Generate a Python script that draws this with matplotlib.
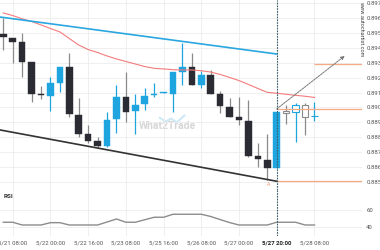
import numpy as np
import matplotlib
matplotlib.use('Agg')
import matplotlib.pyplot as plt

plt.rcParams['font.family'] = ['Roboto', 'DejaVu Sans']

# candle data (4h bars)
opens  = [0.89492, 0.89465, 0.89439, 0.89304, 0.89087, 0.89077, 0.89164, 0.89271, 0.88950, 0.88822,
          0.88775, 0.88742, 0.88923, 0.89070, 0.88976, 0.89023, 0.89080, 0.89100, 0.89090, 0.89237,
          0.89271, 0.89150, 0.89217, 0.89090, 0.89003, 0.88936, 0.88909, 0.88675, 0.88648, 0.88594,
          0.88976, 0.88970, 0.89017, 0.88940]
highs  = [0.89600, 0.89465, 0.89499, 0.89304, 0.89144, 0.89204, 0.89271, 0.89365, 0.89063, 0.88882,
          0.88802, 0.88970, 0.89150, 0.89237, 0.89090, 0.89130, 0.89164, 0.89104, 0.89237, 0.89432,
          0.89365, 0.89244, 0.89251, 0.89110, 0.89063, 0.89070, 0.89050, 0.88762, 0.88822, 0.88970,
          0.89017, 0.89030, 0.89030, 0.89037]
lows   = [0.89385, 0.89298, 0.89204, 0.89037, 0.89057, 0.88976, 0.89104, 0.88936, 0.88802, 0.88762,
          0.88728, 0.88735, 0.88829, 0.88903, 0.88822, 0.88983, 0.89070, 0.89100, 0.88970, 0.89150,
          0.89150, 0.89130, 0.89090, 0.88963, 0.88936, 0.88882, 0.88668, 0.88601, 0.88514, 0.88594,
          0.88889, 0.88768, 0.88815, 0.88909]
closes = [0.89472, 0.89439, 0.89304, 0.89090, 0.89080, 0.89164, 0.89271, 0.88956, 0.88822, 0.88775,
          0.88742, 0.88916, 0.89070, 0.88970, 0.89017, 0.89077, 0.89087, 0.89104, 0.89237, 0.89271,
          0.89150, 0.89217, 0.89090, 0.89010, 0.88936, 0.88916, 0.88675, 0.88655, 0.88594, 0.88970,
          0.88963, 0.89017, 0.88936, 0.88940]
n_real = 30  # bars after this one are the projected (hollow) ones

ma = [0.89633, 0.89616, 0.89594, 0.89576, 0.89553, 0.89529, 0.89506, 0.89462, 0.89418, 0.89388,
      0.89368, 0.89345, 0.89325, 0.89308, 0.89291, 0.89274, 0.89262, 0.89258, 0.89253, 0.89251,
      0.89251, 0.89246, 0.89237, 0.89221, 0.89201, 0.89180, 0.89154, 0.89127, 0.89101, 0.89095,
      0.89088, 0.89081, 0.89075, 0.89067]

rsi = [45.3, 45.3, 42.0, 42.0, 42.0, 44.8, 44.8, 42.0, 42.0, 42.0,
       42.0, 45.6, 49.2, 45.3, 45.3, 48.3, 51.3, 51.3, 54.9, 54.9,
       54.9, 54.9, 52.2, 48.5, 44.9, 42.0, 42.0, 42.0, 42.0, 45.3,
       45.3, 45.3, 42.0, 42.0]

# pattern lines
resist_x = [-0.35, 29]
resist_y = [0.89606, 0.89358]
support_x = [-0.35, 29]
support_y = [0.88849, 0.88505]

event_idx = 29
level_entry = 0.88990
level_low = 0.88509
level_target = 0.89291
arrow_end = (36.2, 0.89345)

price_ticks = [0.885, 0.886, 0.887, 0.888, 0.889, 0.890, 0.891, 0.892, 0.893, 0.894, 0.895, 0.896, 0.897]
time_pos = [1, 5, 9, 13, 17, 21, 25, 29, 33]
time_labels = ['5/21 08:00', '5/22 00:00', '5/22 16:00', '5/23 08:00', '5/25 16:00',
               '5/26 08:00', '5/27 00:00', '5/27 20:00', '5/28 08:00']

BLUE = '#1ea5e0'
DARK = '#2b2b33'
GRID = '#ededed'
TXT = '#555555'

fig = plt.figure(figsize=(3.8, 2.5), dpi=100)
ax = fig.add_axes([0, 0.24, 362 / 380, 0.76])
ax2 = fig.add_axes([0, 0.056, 362 / 380, 0.184])

xlim = (-0.35, 38.04)
for a in (ax, ax2):
    a.set_xlim(*xlim)
    for s in a.spines.values():
        s.set_visible(False)
    a.set_xticks(time_pos)
    a.grid(True, color=GRID, linewidth=0.6)
    a.set_axisbelow(True)
    a.tick_params(length=0, labelsize=4.3, colors=TXT, pad=3)
    a.yaxis.tick_right()

ax.set_ylim(0.884464, 0.897201)
ax.set_yticks(price_ticks)
ax.set_yticklabels([f'{p:.3f}' for p in price_ticks])
ax.set_xticklabels([])

# watermark
ax.text(17.4, 0.88876, 'What2Trade', fontsize=7.5, fontweight='bold', color='#d6d6d6',
        ha='center', va='center', zorder=0)
ax.plot([16.6, 17.2, 17.8, 18.4, 19.2], [0.88930, 0.88905, 0.88925, 0.88900, 0.88945],
        color='#cfe8f5', lw=1.5, zorder=0)

# candles
w = 0.7
for i in range(len(opens)):
    o, h, l, c = opens[i], highs[i], lows[i], closes[i]
    up = c >= o
    col = BLUE if up else DARK
    wick_col = BLUE if up else '#8a8a8a'
    body_h = max(abs(c - o), 0.000025)
    if i < n_real:
        ax.vlines(i, l, h, color=wick_col, lw=0.9, zorder=2)
        ax.bar(i, body_h, bottom=min(o, c), width=w, color=col, edgecolor=col, lw=0.3, zorder=3)
    else:
        ec = BLUE if up else '#8a8a8a'
        ax.vlines(i, l, h, color=ec, lw=0.9, zorder=2)
        ax.bar(i, body_h, bottom=min(o, c), width=w, color='white', edgecolor=ec, lw=0.8, zorder=3)

ax.plot(range(len(ma)), ma, color='#f47c7c', lw=0.8, zorder=4)
ax.plot(resist_x, resist_y, color='#2aa6e0', lw=1.2, zorder=4)
ax.plot(support_x, support_y, color='#333333', lw=1.2, zorder=4)

ax.hlines(level_entry, event_idx, xlim[1], color='#f6a985', lw=0.9, zorder=4)
ax.hlines(level_low, event_idx, xlim[1], color='#f6a985', lw=0.9, zorder=4)
ax.hlines(level_target, 33, xlim[1], color='#f6a985', lw=0.9, zorder=4)
ax.annotate('', xy=arrow_end, xytext=(event_idx, level_entry),
            arrowprops=dict(arrowstyle='-|>', color='#777777', lw=0.7, ls=(0, (2, 1)),
                            mutation_scale=5, shrinkA=0, shrinkB=0), zorder=5)
ax.text(28.15, 0.88480, 'A', fontsize=4, color='#f6a985', ha='center', va='center')

for a in (ax, ax2):
    a.axvline(event_idx, color='#3f5d68', lw=0.8, ls=(0, (1.5, 1)), zorder=6)

# RSI panel
ax2.set_ylim(28.8, 84)
ax2.set_yticks([40, 60])
ax2.set_xticklabels(time_labels)
ax2.plot(range(len(rsi)), rsi, color='#8c8c8c', lw=1.0)
ax2.text(0, 76, 'RSI', fontsize=4.5, fontweight='bold', color='#333333', ha='left', va='center')
for lbl in ax2.get_xticklabels():
    if lbl.get_text() == '5/27 20:00':
        lbl.set_color('#222222')
        lbl.set_fontweight('bold')

fig.text(361 / 380, 1 - 2 / 250, 'www.autochartist.com', rotation=270, fontsize=4,
         color='#444444', ha='center', va='top')

fig.savefig('out.png', dpi=100)
